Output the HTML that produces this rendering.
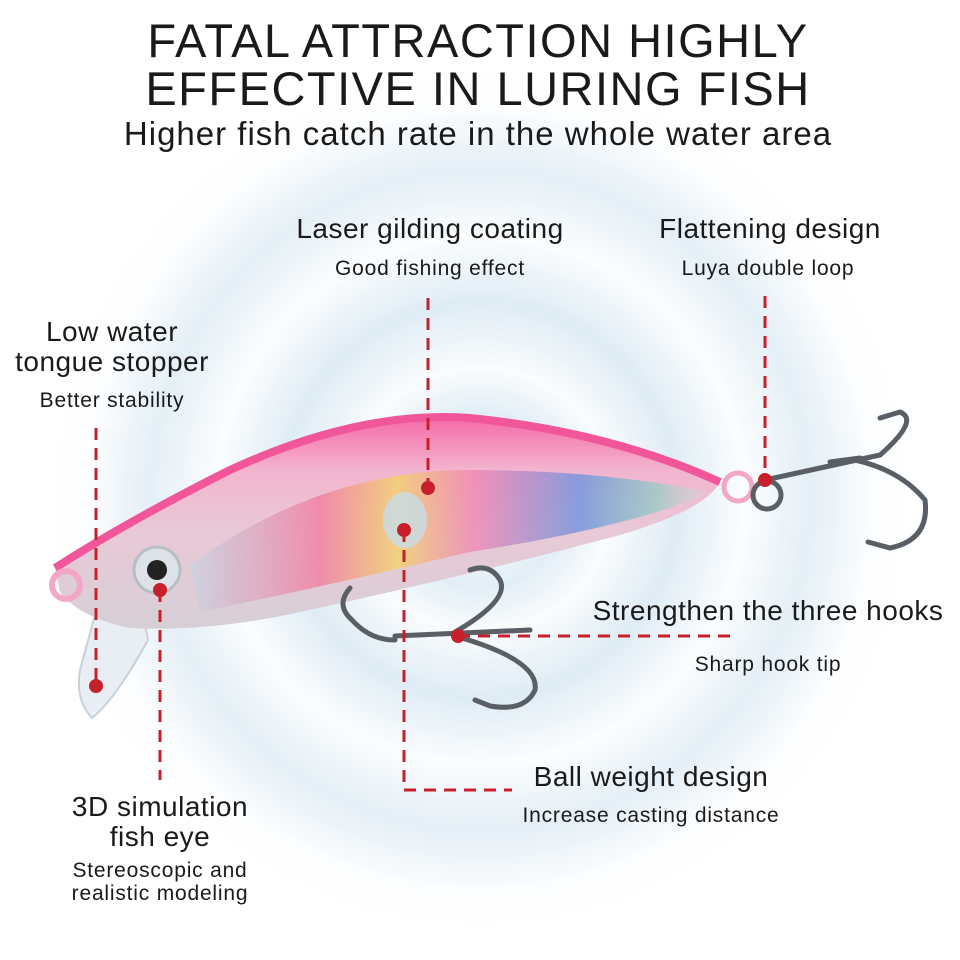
<!DOCTYPE html>
<html><head><meta charset="utf-8"><style>
html,body{margin:0;padding:0;width:960px;height:960px;overflow:hidden;background:#fff;}
body{position:relative;font-family:"Liberation Sans",sans-serif;color:#1a1a1a;}
.t{position:absolute;white-space:nowrap;transform:translateX(-50%);text-align:center;line-height:1;}
.s{font-size:21px;letter-spacing:0.8px;}
.m{font-size:28px;letter-spacing:0.5px;}
svg{position:absolute;left:0;top:0;}
</style></head><body>
<svg width="960" height="960" viewBox="0 0 960 960">
<defs>
<radialGradient id="bg" cx="480" cy="500" r="440" gradientUnits="userSpaceOnUse">
<stop offset="0" stop-color="#fff"/>
<stop offset="0.2" stop-color="#e2eef6"/>
<stop offset="0.3" stop-color="#fafcfd"/>
<stop offset="0.45" stop-color="#dfecf5"/>
<stop offset="0.6" stop-color="#fbfdfe"/>
<stop offset="0.75" stop-color="#e4eff6"/>
<stop offset="0.9" stop-color="#fdfeff"/>
<stop offset="1" stop-color="#fff"/>
</radialGradient>
<linearGradient id="body" x1="0" y1="0" x2="0" y2="1">
<stop offset="0" stop-color="#f56aa6"/>
<stop offset="0.25" stop-color="#f3b4cf"/>
<stop offset="0.55" stop-color="#e8c9d6"/>
<stop offset="1" stop-color="#d7cfd6"/>
</linearGradient>
<linearGradient id="rb" x1="0" y1="0" x2="1" y2="0">
<stop offset="0" stop-color="#c7d3e0" stop-opacity="0.7"/>
<stop offset="0.25" stop-color="#f27da0" stop-opacity="0.8"/>
<stop offset="0.4" stop-color="#f3d36a" stop-opacity="0.8"/>
<stop offset="0.55" stop-color="#f07fb0" stop-opacity="0.7"/>
<stop offset="0.75" stop-color="#5c8ee0" stop-opacity="0.7"/>
<stop offset="0.9" stop-color="#7fd0c0" stop-opacity="0.6"/>
<stop offset="1" stop-color="#ddd" stop-opacity="0.3"/>
</linearGradient>
</defs>
<rect width="960" height="960" fill="url(#bg)"/>
<path d="M95 615 L140 600 L148 640 Q115 700 92 718 Q75 700 80 670 Z" fill="#e8eef3" stroke="#c8d0d8" stroke-width="2"/>
<path d="M55 568 Q130 520 230 470 Q360 410 470 418 Q610 432 720 482 Q705 510 620 535 Q470 575 300 612 Q210 632 130 628 Q80 618 60 592 Z" fill="url(#body)"/>
<path d="M190 565 Q320 470 470 470 Q600 470 710 492 Q640 525 470 552 Q330 585 200 612 Z" fill="url(#rb)"/>
<path d="M55 568 Q130 520 230 470 Q360 410 470 418 Q610 432 720 482" fill="none" stroke="#f1559a" stroke-width="8"/>
<circle cx="66" cy="585" r="14" fill="none" stroke="#f2a7c4" stroke-width="6"/>
<circle cx="738" cy="487" r="14" fill="none" stroke="#f2a7c4" stroke-width="5"/>
<circle cx="157" cy="570" r="23" fill="#dde2e8" stroke="#b8bec6" stroke-width="3"/>
<circle cx="157" cy="570" r="10" fill="#222"/>
<ellipse cx="405" cy="520" rx="22" ry="28" fill="#c8dce8" opacity="0.8"/>
<g fill="none" stroke="#5a5f66" stroke-width="5" stroke-linecap="round">
<circle cx="767" cy="495" r="14"/>
<path d="M765 480 L880 455"/>
<path d="M880 455 Q920 420 900 412 M900 412 L880 418"/>
<path d="M855 460 Q900 470 925 500 Q930 540 890 548 L868 542"/>
<path d="M860 458 L830 462"/>
</g>
<g fill="none" stroke="#5a5f66" stroke-width="5" stroke-linecap="round">
<path d="M350 588 Q335 605 352 620 Q370 640 395 640"/>
<path d="M395 636 L530 630"/>
<path d="M455 632 Q510 600 500 580 Q490 563 470 570"/>
<path d="M455 636 Q540 660 535 690 Q525 712 490 706 L475 700"/>
</g>
<g stroke="#c8202a" stroke-width="3" fill="none" stroke-dasharray="12,8">
<path d="M428 298 V488"/>
<path d="M765 296 V480"/>
<path d="M96 428 V686"/>
<path d="M160 590 V780"/>
<path d="M404 530 V790 H512"/>
<path d="M458 636 H730"/>
</g>
<g fill="#c8202a">
<circle cx="428" cy="488" r="7"/><circle cx="765" cy="480" r="7"/><circle cx="96" cy="686" r="7"/>
<circle cx="160" cy="590" r="7"/><circle cx="404" cy="530" r="7"/><circle cx="458" cy="636" r="7"/>
</g>
</svg>
<div class="t" style="left:478px;top:17px;font-size:47px;letter-spacing:1.5px;">FATAL ATTRACTION HIGHLY</div>
<div class="t" style="left:478px;top:65px;font-size:47px;letter-spacing:1.5px;">EFFECTIVE IN LURING FISH</div>
<div class="t" style="left:478px;top:117px;font-size:33px;letter-spacing:1px;">Higher fish catch rate in the whole water area</div>
<div class="t m" style="left:430px;top:215px;">Laser gilding coating</div>
<div class="t s" style="left:430px;top:258px;">Good fishing effect</div>
<div class="t m" style="left:770px;top:215px;">Flattening design</div>
<div class="t s" style="left:768px;top:258px;">Luya double loop</div>
<div class="t m" style="left:112px;top:318px;">Low water</div>
<div class="t m" style="left:112px;top:348px;">tongue stopper</div>
<div class="t s" style="left:112px;top:390px;">Better stability</div>
<div class="t m" style="left:768px;top:597px;">Strengthen the three hooks</div>
<div class="t s" style="left:768px;top:654px;">Sharp hook tip</div>
<div class="t m" style="left:651px;top:763px;">Ball weight design</div>
<div class="t s" style="left:651px;top:805px;">Increase casting distance</div>
<div class="t m" style="left:160px;top:793px;">3D simulation</div>
<div class="t m" style="left:160px;top:823px;">fish eye</div>
<div class="t s" style="left:160px;top:860px;">Stereoscopic and</div>
<div class="t s" style="left:160px;top:883px;">realistic modeling</div>
</body></html>
